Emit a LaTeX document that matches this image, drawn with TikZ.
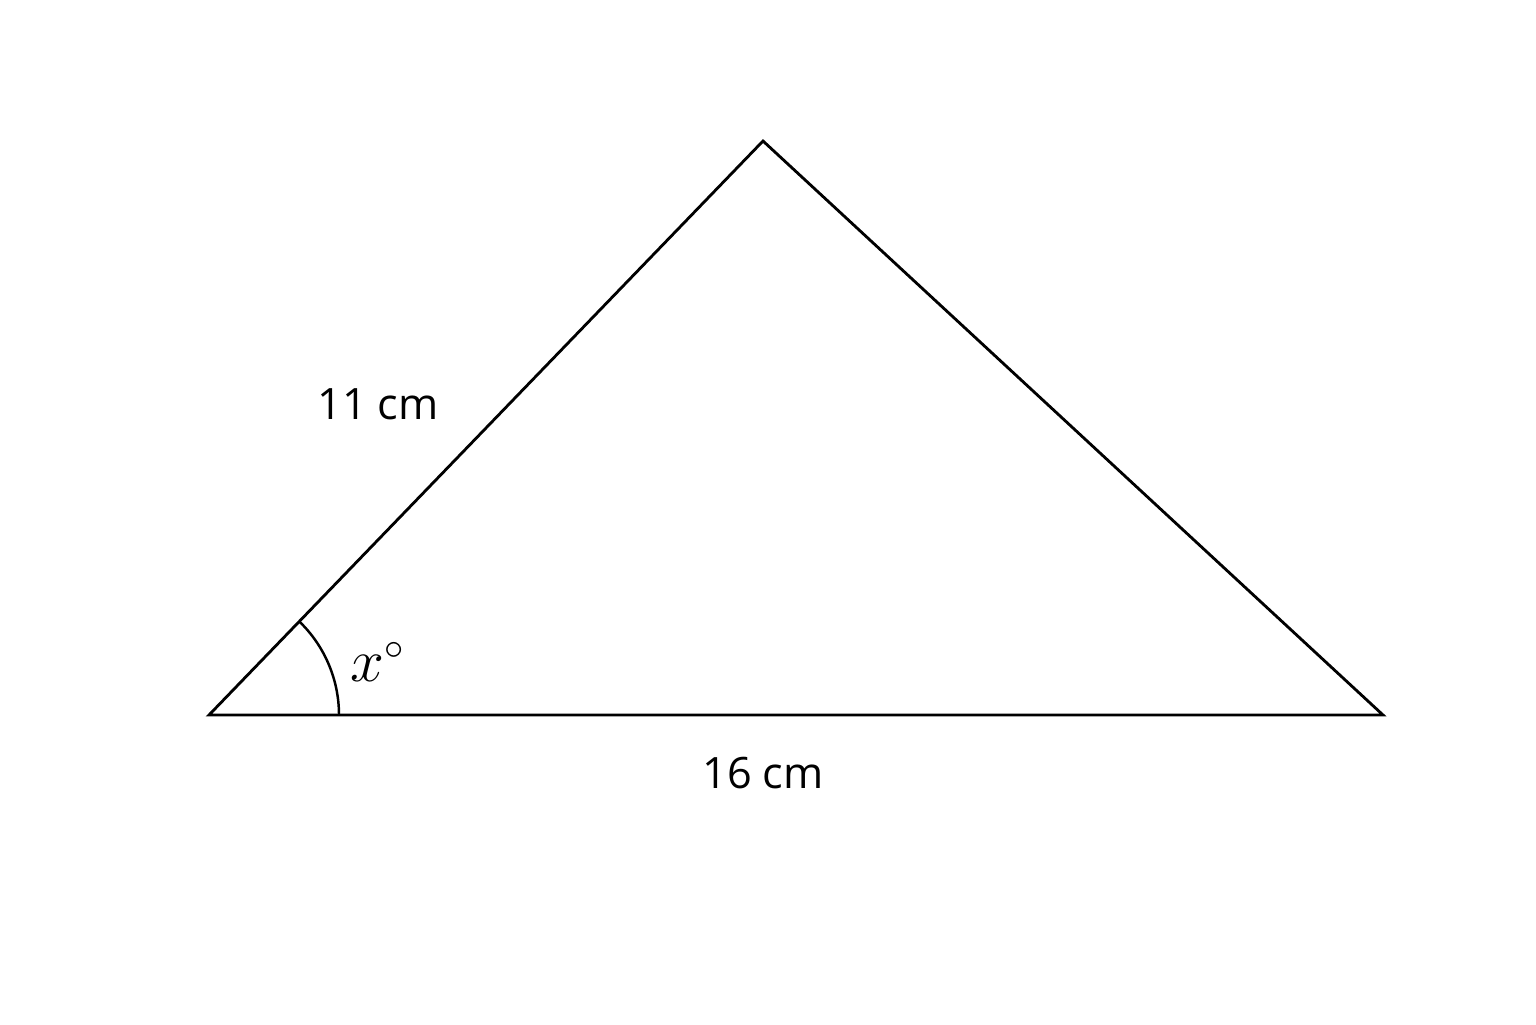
\documentclass[tikz,border=0pt]{standalone}
\usepackage{fontspec}
\setmainfont{Open Sans}
\usepackage{tikz}

\begin{document}
\begin{tikzpicture}[thick, every node/.style={font=\fontsize{12.3}{14}\selectfont}]
\useasboundingbox (0,0) rectangle (15.36,10.24);
%vertices
\coordinate (A) at (2.09,3.09);
\coordinate (B) at (13.83,3.09);
\coordinate (C) at (7.63,8.83);
\draw [line width=0.8pt, line join=miter] (A) -- (B) -- (C) -- cycle;
%angle at A
\draw [line width=0.7pt] ([xshift=1.3cm]A) arc (0:46.0:1.3);
\node (ang) at (3.78,3.62) {\fontsize{16}{18}\selectfont$x^{\circ}$};
%side lengths
\node (left) at (3.78,6.20) {11 cm};
\node (base) at (7.63,2.51) {16 cm};
\end{tikzpicture}
\end{document}
